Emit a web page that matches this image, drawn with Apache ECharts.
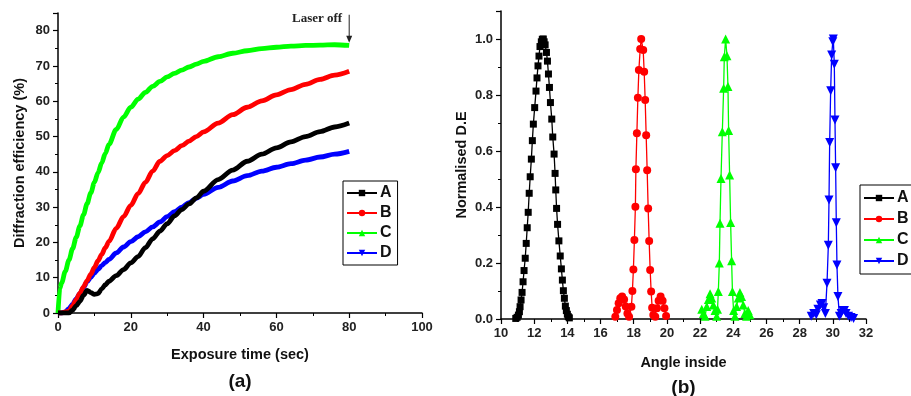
<!DOCTYPE html>
<html>
<head>
<meta charset="utf-8">
<script src="https://cdn.jsdelivr.net/npm/echarts@6/dist/echarts.min.js"></script>
<style>
  html, body { margin: 0; background: #fff; }
  #chart { width: 911px; height: 396px; }
</style>
</head>
<body>
<div id="chart"></div>
<script>
// panel (a): diffraction efficiency vs exposure time
const time = [0, 0.5, 1, 2, 3, 4, 5, 6, 7, 8, 9, 10, 11, 12, 13, 14, 16, 18, 20, 22, 24, 26, 28, 30, 32, 34, 36, 38, 40, 44, 48, 52, 56, 60, 64, 68, 72, 76, 80];
const effA = [0, 0, 0, 0, 0, 0.8, 2, 3.3, 5, 6.4, 5.8, 5.3, 5.5, 6.8, 8, 9, 10.6, 12.3, 14.2, 16, 18.5, 21, 23.2, 25.3, 27.5, 29.3, 30.9, 32.6, 34.5, 37.8, 40.5, 43, 45, 46.8, 48.5, 50, 51.4, 52.7, 53.8];
const effB = [0, 0, 0, 0.3, 0.5, 2, 3.8, 5.6, 7.4, 9.2, 11, 12.9, 14.8, 16.6, 18.5, 20.3, 24, 27.3, 30.5, 33.8, 37, 40.2, 43, 44.6, 46, 47.4, 48.7, 50, 51.3, 53.8, 56.2, 58.3, 60.1, 61.8, 63.3, 64.8, 66.2, 67.4, 68.5];
const effC = [0, 7, 8.5, 11.8, 15, 18.2, 21.4, 24.6, 27.8, 31, 34, 37, 39.8, 42.5, 45.2, 47.8, 52, 55.5, 58.3, 60.6, 62.5, 64.2, 65.6, 66.9, 67.9, 68.8, 69.7, 70.5, 71.3, 72.6, 73.6, 74.3, 74.9, 75.3, 75.6, 75.8, 75.9, 76, 75.8];
const effD = [0, 0, 0, 0.3, 1.2, 2.5, 4, 5.5, 7.2, 8.8, 10.1, 11.3, 12.4, 13.4, 14.3, 15.2, 17, 18.7, 20.2, 21.6, 23, 24.4, 25.8, 27.3, 28.7, 30, 31.3, 32.5, 33.6, 35.6, 37.4, 38.9, 40.2, 41.3, 42.3, 43.3, 44.2, 45, 45.8];

// panel (b): normalised D.E vs angle inside
const angleA = [10.89, 10.97, 11.05, 11.11, 11.15, 11.21, 11.27, 11.33, 11.39, 11.46, 11.52, 11.58, 11.64, 11.7, 11.76, 11.83, 11.89, 11.95, 12.03, 12.11, 12.17, 12.23, 12.29, 12.35, 12.43, 12.49, 12.55, 12.6, 12.66, 12.74, 12.8, 12.86, 12.92, 12.98, 13.06, 13.12, 13.2, 13.26, 13.3, 13.35, 13.41, 13.49, 13.57, 13.64, 13.7, 13.76, 13.82, 13.88, 13.94, 14.0, 14.06, 14.12];
const deA = [0.002, 0.006, 0.014, 0.026, 0.044, 0.068, 0.095, 0.133, 0.173, 0.217, 0.27, 0.326, 0.381, 0.449, 0.508, 0.571, 0.637, 0.696, 0.755, 0.814, 0.861, 0.904, 0.939, 0.973, 0.99, 0.999, 1.0, 0.99, 0.979, 0.952, 0.921, 0.875, 0.827, 0.773, 0.714, 0.65, 0.589, 0.52, 0.461, 0.395, 0.338, 0.279, 0.225, 0.179, 0.139, 0.101, 0.074, 0.046, 0.03, 0.017, 0.008, 0.004];
const angleB = [16.89, 16.99, 17.09, 17.19, 17.3, 17.42, 17.52, 17.62, 17.72, 17.86, 17.92, 17.98, 18.04, 18.1, 18.13, 18.19, 18.25, 18.31, 18.39, 18.45, 18.57, 18.63, 18.69, 18.75, 18.81, 18.87, 18.93, 18.99, 19.05, 19.11, 19.18, 19.3, 19.4, 19.5, 19.62, 19.74, 19.85, 19.95];
const deB = [0.008, 0.032, 0.056, 0.074, 0.08, 0.07, 0.045, 0.02, 0.008, 0.044, 0.1, 0.177, 0.282, 0.401, 0.535, 0.663, 0.79, 0.889, 0.964, 1.0, 0.961, 0.883, 0.782, 0.656, 0.531, 0.395, 0.279, 0.175, 0.098, 0.04, 0.014, 0.008, 0.038, 0.065, 0.08, 0.065, 0.038, 0.011];
const angleC = [22.1, 22.2, 22.3, 22.4, 22.5, 22.6, 22.7, 22.8, 22.9, 23.0, 23.05, 23.1, 23.16, 23.2, 23.26, 23.34, 23.42, 23.46, 23.54, 23.62, 23.68, 23.72, 23.78, 23.84, 23.9, 23.95, 24.02, 24.1, 24.2, 24.3, 24.4, 24.5, 24.6, 24.7, 24.8, 24.9, 25.0];
const deC = [0.035, 0.02, 0.01, 0.045, 0.07, 0.09, 0.075, 0.05, 0.03, 0.01, 0.035, 0.098, 0.2, 0.342, 0.502, 0.669, 0.824, 0.937, 1.0, 0.94, 0.83, 0.673, 0.514, 0.345, 0.208, 0.098, 0.03, 0.01, 0.045, 0.075, 0.095, 0.08, 0.05, 0.02, 0.01, 0.03, 0.015];
const angleD = [28.7, 28.85, 29.0, 29.1, 29.25, 29.35, 29.45, 29.55, 29.65, 29.73, 29.77, 29.81, 29.87, 29.93, 30.0, 30.03, 30.09, 30.13, 30.17, 30.21, 30.25, 30.31, 30.4, 30.5, 30.6, 30.7, 30.8, 30.95, 31.1, 31.25];
const deD = [0.01, 0.02, 0.015, 0.035, 0.05, 0.055, 0.04, 0.02, 0.128, 0.263, 0.425, 0.63, 0.815, 0.943, 0.99, 1.0, 0.91, 0.711, 0.54, 0.344, 0.193, 0.08, 0.01, 0.02, 0.03, 0.03, 0.02, 0.01, 0.005, 0.002];

const names = ['A', 'B', 'C', 'D'];
const colors = ['#000000', '#ff0000', '#00ff00', '#0000ff'];
const symbols = ['rect', 'circle', 'triangle', 'triangle'];
const rotates = [0, 0, 0, 180];
const sizes = [7, 8, 9, 9];

const zip = (xs, ys) => xs.map((x, i) => [x, ys[i]]);
const effs = [effA, effB, effC, effD];
const angles = [angleA, angleB, angleC, angleD];
const des = [deA, deB, deC, deD];

const font = 'Liberation Sans, Arial, sans-serif';

const axisCommon = {
  axisLine: { lineStyle: { color: '#000', width: 1.5 } },
  axisTick: { length: 5, lineStyle: { color: '#000', width: 1.2 } },
  minorTick: { show: true, splitNumber: 2, length: 3, lineStyle: { color: '#000', width: 1 } },
  splitLine: { show: false },
  axisLabel: { color: '#222', fontFamily: font, fontWeight: 'bold', fontSize: 13 },
  nameLocation: 'middle',
  nameTextStyle: { color: '#111', fontFamily: font, fontWeight: 'bold', fontSize: 14.5 }
};

const chart = echarts.init(document.getElementById('chart'));

const series = [];
// (b) first so that legend icons come from the marker series
names.forEach((n, i) => {
  series.push({
    name: n, type: 'line', xAxisIndex: 1, yAxisIndex: 1,
    data: zip(angles[i], des[i]),
    symbol: symbols[i], symbolRotate: rotates[i], symbolSize: sizes[i],
    showSymbol: true,
    itemStyle: { color: colors[i] },
    lineStyle: { color: colors[i], width: 1.3 },
    animation: false
  });
});
names.forEach((n, i) => {
  series.push({
    name: n, type: 'line', xAxisIndex: 0, yAxisIndex: 0,
    data: zip(time, effs[i]),
    showSymbol: false, symbol: symbols[i],
    smooth: 0.3, smoothMonotone: 'x',
    itemStyle: { color: colors[i] },
    lineStyle: { color: colors[i], width: 4.8 },
    z: 3 + (3 - i),
    animation: false
  });
});

const legendCommon = {
  orient: 'vertical',
  data: names,
  itemWidth: 30,
  itemHeight: 8,
  itemGap: 4,
  borderColor: '#000',
  borderWidth: 1,
  borderRadius: 0,
  padding: [4, 6, 4, 3],
  textStyle: { color: '#111', fontFamily: font, fontWeight: 'bold', fontSize: 16, padding: [0, 0, 0, -2] }
};

chart.setOption({
  animation: false,
  grid: [
    { left: 58, top: 13, width: 364, height: 300 },
    { left: 501, top: 11, width: 365, height: 308 }
  ],
  xAxis: [
    Object.assign({}, axisCommon, {
      gridIndex: 0, type: 'value', min: 0, max: 100, interval: 20,
      name: 'Exposure time (sec)', nameGap: 34
    }),
    Object.assign({}, axisCommon, {
      gridIndex: 1, type: 'value', min: 10, max: 32, interval: 2,
      name: 'Angle inside', nameGap: 36
    })
  ],
  yAxis: [
    Object.assign({}, axisCommon, {
      gridIndex: 0, type: 'value', min: 0, max: 85, interval: 10,
      axisLabel: Object.assign({}, axisCommon.axisLabel, { showMaxLabel: false }),
      name: 'Diffraction efficiency (%)', nameGap: 31
    }),
    Object.assign({}, axisCommon, {
      gridIndex: 1, type: 'value', min: 0, max: 1.1, interval: 0.2,
      axisLabel: Object.assign({}, axisCommon.axisLabel, {
        showMaxLabel: false,
        formatter: v => v.toFixed(1)
      }),
      name: 'Normalised D.E', nameGap: 32
    })
  ],
  legend: [
    Object.assign({}, legendCommon, { left: 343, top: 181 }),
    Object.assign({}, legendCommon, { left: 860, top: 185, itemGap: 5, padding: [5, 6, 5, 3] })
  ],
  series: series
});

// annotations placed from data coordinates
const arrowTip = chart.convertToPixel({ xAxisIndex: 0, yAxisIndex: 0 }, [80, 76.6]);
const arrowTop = chart.convertToPixel({ xAxisIndex: 0, yAxisIndex: 0 }, [80, 84.5]);
const midA = chart.convertToPixel({ xAxisIndex: 0 }, 50);
const midB = chart.convertToPixel({ xAxisIndex: 1 }, 21);

chart.setOption({
  graphic: [
    {
      type: 'line',
      shape: { x1: arrowTip[0], y1: arrowTop[1], x2: arrowTip[0], y2: arrowTip[1] - 5 },
      style: { stroke: '#222', lineWidth: 1 }
    },
    {
      type: 'polygon',
      shape: { points: [[arrowTip[0] - 3, arrowTip[1] - 7], [arrowTip[0] + 3, arrowTip[1] - 7], [arrowTip[0], arrowTip[1]]] },
      style: { fill: '#222' }
    },
    {
      type: 'text', x: arrowTip[0] - 7, y: arrowTop[1] + 4,
      style: {
        text: 'Laser off', fill: '#222', align: 'right', verticalAlign: 'middle',
        font: 'bold 13px "Liberation Serif", "Times New Roman", serif'
      }
    },
    {
      type: 'text', x: midA, y: 382,
      style: { text: '(a)', fill: '#111', align: 'center', verticalAlign: 'middle', font: 'bold 19px ' + font }
    },
    {
      type: 'text', x: midB, y: 388,
      style: { text: '(b)', fill: '#111', align: 'center', verticalAlign: 'middle', font: 'bold 19px ' + font }
    }
  ]
});
</script>
</body>
</html>
